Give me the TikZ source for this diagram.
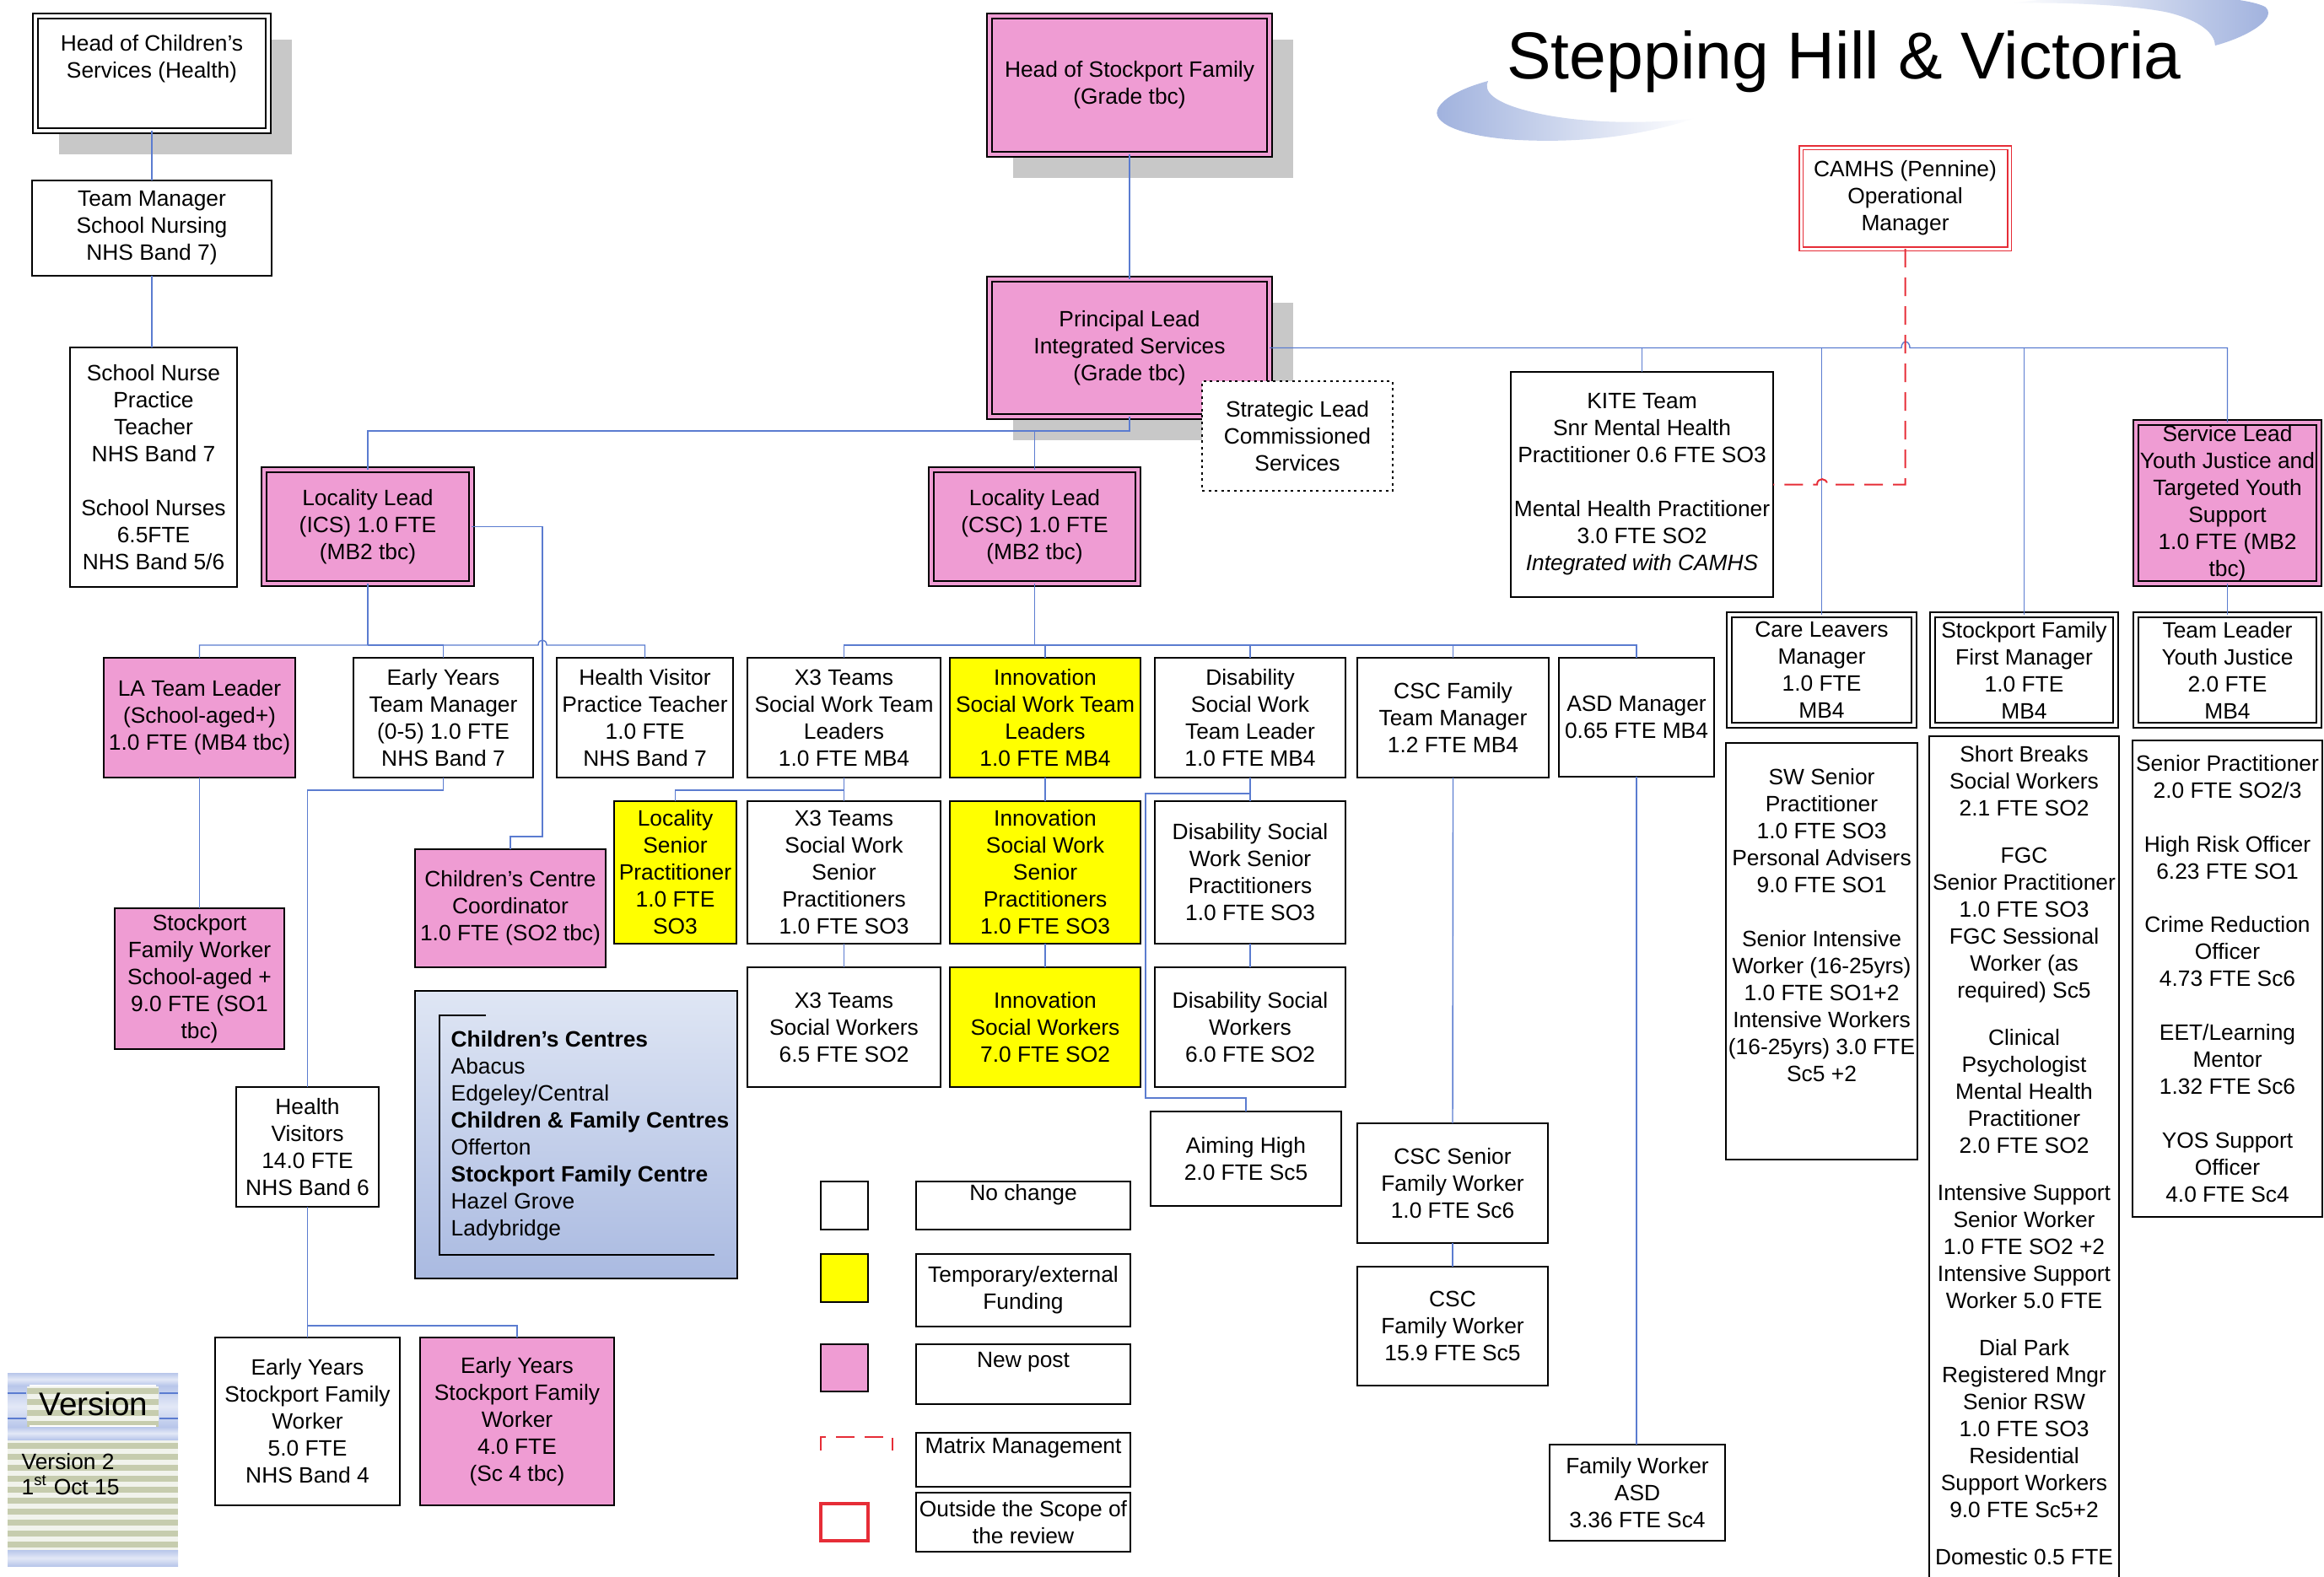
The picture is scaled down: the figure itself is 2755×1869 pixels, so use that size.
\documentclass[tikz,border=0pt]{standalone}
\usepackage{fontspec}
\setmainfont{Liberation Sans}
\usetikzlibrary{shadows}

\definecolor{pinkpost}{RGB}{239,156,211}
\definecolor{tempyel}{RGB}{255,255,0}
\definecolor{link}{RGB}{91,124,208}
\definecolor{matrixred}{RGB}{230,45,55}
\definecolor{shadowgray}{RGB}{200,200,200}
\definecolor{ccTop}{RGB}{223,230,244}
\definecolor{ccBot}{RGB}{170,186,225}
\definecolor{swoosh}{RGB}{158,176,221}
\definecolor{verblue}{RGB}{184,198,234}
\definecolor{vergreen}{RGB}{198,204,174}
\definecolor{verwhite}{RGB}{241,243,236}

\tikzset{
  box/.style={draw=black, line width=0.25mm, fill=white, inner sep=0pt, outer sep=0pt},
  txt/.style={font=\fontsize{7.5pt}{9.1pt}\selectfont, align=center, inner sep=0pt},
  newpost/.style={fill=pinkpost},
  temp/.style={fill=tempyel},
  dbl/.style={line width=0.2mm, double distance=0.35mm, double=white},
  dblpink/.style={dbl, fill=pinkpost, double=pinkpost},
  redbox/.style={draw=matrixred, line width=0.15mm, double distance=0.3mm, double=white},
  dotbox/.style={dash pattern=on 0.3mm off 0.45mm, line width=0.22mm},
  ccbox/.style={top color=ccTop, bottom color=ccBot},
  redsq/.style={draw=matrixred, line width=0.4mm, fill=none},
  shadowed/.style={drop shadow={shadow xshift=2.8mm, shadow yshift=-2.8mm, fill=shadowgray, opacity=1}},
  conn/.style={draw=link, line width=0.14mm},
  matrixline/.style={draw=matrixred, line width=0.2mm, dash pattern=on 2.2mm off 1.2mm},
}

% box from corner (x1,y1) to (x2,y2), drawn #1 units inside those corners
\newcommand\bxi[8]{%
  \pgfmathsetmacro\bxw{(#6-#4-2*#1)/10}%
  \pgfmathsetmacro\bxh{(#7-#5-2*#1)/10}%
  \pgfmathsetmacro\bxx{(#4+#6)/2}%
  \pgfmathsetmacro\bxy{(#5+#7)/2}%
  \node[box, minimum width=\bxw mm, minimum height=\bxh mm, #2] (#3) at (\bxx,\bxy) {};%
  \def\bxtext{#8}%
  \ifx\bxtext\empty\else\node[txt] (#3-t) at (#3.center) {#8};\fi
}
\newcommand\bx[7][]{\bxi{0}{#1}{#2}{#3}{#4}{#5}{#6}{#7}}
\newcommand\dbx[7][]{\bxi{4}{dbl,#1}{#2}{#3}{#4}{#5}{#6}{#7}}

\begin{document}
\begin{tikzpicture}[x=0.1mm, y=-0.1mm]
\useasboundingbox (0,0) rectangle (2755,1869);
\begin{scope}
\clip (0,0) rectangle (2755,1869);

% title swoosh
\shade[left color=swoosh, right color=white]
  (2010,140) .. controls (1950,160) and (1880,170) .. (1800,166)
  .. controls (1730,162) and (1695,145) .. (1705,128)
  .. controls (1712,115) and (1735,104) .. (1764,96)
  .. controls (1758,108) and (1770,122) .. (1817,133)
  .. controls (1870,146) and (1950,148) .. (2010,140) -- cycle;
\shade[left color=white, right color=swoosh]
  (2383,4) .. controls (2480,-10) and (2650,-10) .. (2685,8)
  .. controls (2700,20) and (2670,42) .. (2626,54)
  .. controls (2625,40) and (2610,25) .. (2571,15)
  .. controls (2530,6) and (2440,2) .. (2383,4) -- cycle;
\node[font=\fontsize{22.4pt}{26pt}\selectfont, anchor=base, inner sep=0pt] (title) at (2186,94) {Stepping Hill \& Victoria};

% health column
\dbx[shadowed]{headcs}{38}{15}{322}{159}{}
\node[txt] (headcs-t) at (180,70) {Head of Children’s\\Services (Health)};
\bx{tmsn}{38}{214}{322}{327}{Team Manager\\School Nursing\\NHS Band 7)}
\bx{snpt}{83}{412}{281}{696}{School Nurse\\Practice\\Teacher\\NHS Band 7\\[9.1pt]School Nurses\\6.5FTE\\NHS Band 5/6}

% top management
\dbx[dblpink,shadowed]{headsf}{1169}{15}{1509}{187}{Head of Stockport Family\\(Grade tbc)}
\dbx[dblpink,shadowed]{pl}{1169}{327}{1509}{498}{Principal Lead\\Integrated Services\\(Grade tbc)}
\bx[dotbox]{strat}{1425}{452}{1651}{582}{Strategic Lead\\Commissioned\\Services}
\dbx[redbox]{camhs}{2131}{171}{2386}{299}{CAMHS (Pennine)\\Operational\\Manager}
\bx{kite}{1791}{441}{2102}{708}{KITE Team\\Snr Mental Health\\Practitioner 0.6 FTE SO3\\[9.1pt]Mental Health Practitioner\\3.0 FTE SO2\\\textit{Integrated with CAMHS}}
\dbx[dblpink]{slyj}{2528}{497}{2753}{696}{Service Lead\\Youth Justice and\\Targeted Youth\\Support\\1.0 FTE (MB2\\tbc)}
\dbx[dblpink]{icsll}{309}{553}{563}{696}{Locality Lead\\(ICS) 1.0 FTE\\(MB2 tbc)}
\dbx[dblpink]{cscll}{1100}{553}{1353}{696}{Locality Lead\\(CSC) 1.0 FTE\\(MB2 tbc)}

% ICS locality
\bx[newpost]{latl}{123}{780}{350}{922}{LA Team Leader\\(School-aged+)\\1.0 FTE (MB4 tbc)}
\bx{eytm}{419}{780}{632}{922}{Early Years\\Team Manager\\(0-5) 1.0 FTE\\NHS Band 7}
\bx{hvpt}{660}{780}{869}{922}{Health Visitor\\Practice Teacher\\1.0 FTE\\NHS Band 7}
\bx[newpost]{sfw}{136}{1077}{337}{1244}{Stockport\\Family Worker\\School-aged +\\9.0 FTE (SO1\\tbc)}
\bx[newpost]{ccc}{492}{1007}{718}{1147}{Children’s Centre\\Coordinator\\1.0 FTE (SO2 tbc)}
\bx[temp]{lsp}{728}{950}{873}{1119}{Locality\\Senior\\Practitioner\\1.0 FTE\\SO3}
\bx[ccbox]{cctr}{492}{1175}{874}{1516}{}
\draw[line width=0.15mm] (576,1204) -- (521,1204) -- (521,1488) -- (847,1488);
\node[txt, align=left, anchor=north west] (cctr-t) at (534,1222)
  {\textbf{Children’s Centres}\\Abacus\\Edgeley/Central\\\textbf{Children \& Family Centres}\\Offerton\\\textbf{Stockport Family Centre}\\Hazel Grove\\Ladybridge};
\bx{hv}{280}{1289}{449}{1431}{Health\\Visitors\\14.0 FTE\\NHS Band 6}
\bx{eysfw1}{255}{1586}{474}{1785}{Early Years\\Stockport Family\\Worker\\5.0 FTE\\NHS Band 4}
\bx[newpost]{eysfw2}{498}{1586}{728}{1785}{Early Years\\Stockport Family\\Worker\\4.0 FTE\\(Sc 4 tbc)}

% CSC locality
\bx{x3tl}{886}{780}{1115}{922}{X3 Teams\\Social Work Team\\Leaders\\1.0 FTE MB4}
\bx[temp]{innotl}{1126}{780}{1352}{922}{Innovation\\Social Work Team\\Leaders\\1.0 FTE MB4}
\bx{distl}{1369}{780}{1595}{922}{Disability\\Social Work\\Team Leader\\1.0 FTE MB4}
\bx{cscftm}{1609}{780}{1836}{922}{CSC Family\\Team Manager\\1.2 FTE MB4}
\bx{asd}{1848}{780}{2032}{921}{ASD Manager\\0.65 FTE MB4}
\bx{x3sp}{886}{950}{1115}{1119}{X3 Teams\\Social Work\\Senior\\Practitioners\\1.0 FTE SO3}
\bx[temp]{innosp}{1126}{950}{1352}{1119}{Innovation\\Social Work\\Senior\\Practitioners\\1.0 FTE SO3}
\bx{dissp}{1369}{950}{1595}{1119}{Disability Social\\Work Senior\\Practitioners\\1.0 FTE SO3}
\bx{x3sw}{886}{1147}{1115}{1289}{X3 Teams\\Social Workers\\6.5 FTE SO2}
\bx[temp]{innosw}{1126}{1147}{1352}{1289}{Innovation\\Social Workers\\7.0 FTE SO2}
\bx{dissw}{1369}{1147}{1595}{1289}{Disability Social\\Workers\\6.0 FTE SO2}
\bx{aim}{1364}{1318}{1590}{1430}{Aiming High\\2.0 FTE Sc5}
\bx{cscsfw}{1609}{1332}{1835}{1474}{CSC Senior\\Family Worker\\1.0 FTE Sc6}
\bx{cscfw}{1609}{1502}{1835}{1643}{CSC\\Family Worker\\15.9 FTE Sc5}
\bx{fwasd}{1837}{1713}{2045}{1827}{Family Worker\\ASD\\3.36 FTE Sc4}

% right-hand services
\dbx{cl}{2046}{725}{2273}{864}{Care Leavers\\Manager\\1.0 FTE\\MB4}
\dbx{sff}{2287}{725}{2512}{864}{Stockport Family\\First Manager\\1.0 FTE\\MB4}
\dbx{tlyj}{2528}{725}{2753}{864}{Team Leader\\Youth Justice\\2.0 FTE\\MB4}
\bx{swsp}{2046}{881}{2273}{1375}{}
\node[txt, anchor=north] (swsp-t) at (2159.5,911)
  {SW Senior\\Practitioner\\1.0 FTE SO3\\Personal Advisers\\9.0 FTE SO1\\[9.1pt]Senior Intensive\\Worker (16-25yrs)\\1.0 FTE SO1+2\\Intensive Workers\\(16-25yrs) 3.0 FTE\\Sc5 +2};
\bx{sbsw}{2287}{873}{2512}{1885}{}
\node[txt, anchor=north] (sbsw-t) at (2399.5,884)
  {Short Breaks\\Social Workers\\2.1 FTE SO2\\[2.4mm]FGC\\Senior Practitioner\\1.0 FTE SO3\\FGC Sessional\\Worker (as\\required) Sc5\\[2.4mm]Clinical\\Psychologist\\Mental Health\\Practitioner\\2.0 FTE SO2\\[2.4mm]Intensive Support\\Senior Worker\\1.0 FTE SO2 +2\\Intensive Support\\Worker 5.0 FTE\\[2.4mm]Dial Park\\Registered Mngr\\Senior RSW\\1.0 FTE SO3\\Residential\\Support Workers\\9.0 FTE Sc5+2\\[2.4mm]Domestic 0.5 FTE};
\bx{yjsp}{2528}{878}{2753}{1443}{Senior Practitioner\\2.0 FTE SO2/3\\[9.1pt]High Risk Officer\\6.23 FTE SO1\\[9.1pt]Crime Reduction\\Officer\\4.73 FTE Sc6\\[9.1pt]EET/Learning\\Mentor\\1.32 FTE Sc6\\[9.1pt]YOS Support\\Officer\\4.0 FTE Sc4}

% key
\bx{lg1}{973}{1401}{1029}{1458}{}
\bx[temp]{lg2}{973}{1487}{1029}{1544}{}
\bx[newpost]{lg3}{973}{1594}{1029}{1650}{}
\draw[matrixline] (973,1720) -- (973,1704) -- (1058,1704) -- (1058,1720);
\bx[redsq]{lg5}{973}{1783}{1029}{1827}{}
\bx{lt1}{1086}{1401}{1340}{1458}{}
\node[txt, anchor=north] (lt1-t) at (1213,1404) {No change};
\bx{lt2}{1086}{1487}{1340}{1573}{Temporary/external\\Funding}
\bx{lt3}{1086}{1594}{1340}{1665}{}
\node[txt, anchor=north] (lt3-t) at (1213,1603) {New post};
\bx{lt4}{1086}{1699}{1340}{1763}{}
\node[txt, anchor=north] (lt4-t) at (1213,1704) {Matrix Management};
\bx{lt5}{1086}{1770}{1340}{1840}{Outside the Scope of\\the review}

% version panel
\fill[verwhite] (9,1628) rectangle (211,1857);
\foreach \y in {1646,1659,...,1836} \fill[vergreen] (9,\y) rectangle (211,{\y+7});
\foreach \ya/\yb in {1628/1643,1692/1707,1838/1857}
  \shade[top color=verblue, bottom color=verblue, middle color=verblue!40] (9,\ya) rectangle (211,\yb);
\shade[top color=verblue, bottom color=verblue, middle color=verblue!40] (9,1643) rectangle (32,1692);
\shade[top color=verblue, bottom color=verblue, middle color=verblue!40] (188,1643) rectangle (211,1692);
\draw[white, line width=0.2mm] (35,1643) -- (185,1643) (35,1691) -- (185,1691);
\draw[link, line width=0.2mm] (9,1652) -- (31,1652) (9,1682) -- (31,1682) (189,1652) -- (211,1652) (189,1682) -- (211,1682);
\node[font=\fontsize{11pt}{13pt}\selectfont, anchor=base, inner sep=0pt] (vertitle) at (111,1678) {Version};
\node[font=\fontsize{7.5pt}{9.1pt}\selectfont, anchor=base west, inner sep=0pt] (vernum) at (25,1742) {Version 2};
\node[font=\fontsize{7.5pt}{9.1pt}\selectfont, anchor=base west, inner sep=0pt] (verdate) at (25,1772) {1\textsuperscript{st} Oct 15};

% reporting lines
\draw[conn] (headcs.south) -- (tmsn.north);
\draw[conn] (tmsn.south) -- (tmsn.south |- snpt.north);
\draw[conn] (headsf.south) -- (pl.north);
\coordinate (plbus) at (1339,511);
\draw[conn] (pl.south) -- (plbus) -| (icsll.north);
\draw[conn] (plbus) -| (cscll.north);
\draw[conn] (pl.east) -- (2254,412.5) .. controls (2254,403) and (2264,403) .. (2264,412.5) -| (slyj.north);
\draw[conn] (kite.north |- pl.east) -- (kite.north);
\draw[conn] (cl.north |- pl.east) -- (cl.north);
\draw[conn] (sff.north |- pl.east) -- (sff.north);
\draw[conn] (slyj.south) -- (tlyj.north);
\draw[matrixline] (camhs.south) -- (camhs.south |- kite.east) -- (2166,574.5)
  .. controls (2166,566) and (2154,566) .. (2154,574.5) -- (kite.east);

\coordinate (icsbus) at (436,765);
\draw[conn] (icsll.south) -- (icsbus);
\draw[conn] (latl.north) |- (638,765) .. controls (638,757) and (648,757) .. (648,765) -| (hvpt.north);
\draw[conn] (icsbus) -| (eytm.north);
\draw[conn] (icsll.east) -| (643,992) -| (ccc.north);
\draw[conn] (latl.south) -- (sfw.north);
\draw[conn] (eytm.south) -- ++(0,15) -| (hv.north);
\coordinate (eybus) at (364.5,1572);
\draw[conn] (hv.south) -- (eysfw1.north);
\draw[conn] (eybus) -| (eysfw2.north);

\coordinate (cscbus) at (1226.5,765);
\draw[conn] (cscll.south) -- (cscbus);
\draw[conn] (x3tl.north) |- (asd.north |- cscbus) -- (asd.north);
\foreach \n in {innotl,distl,cscftm} \draw[conn] (\n.north) -- (\n.north |- cscbus);
\draw[conn] (x3tl.south) -- (x3sp.north);
\draw[conn] (x3tl.south) ++(0,15) -| (lsp.north);
\draw[conn] (x3sp.south) -- (x3sw.north);
\draw[conn] (innotl.south) -- (innosp.north);
\draw[conn] (innosp.south) -- (innosw.north);
\draw[conn] (distl.south) -- (dissp.north);
\draw[conn] (dissp.south) -- (dissw.north);
\draw[conn] (distl.south) ++(0,19) -| (1358,1302) -| (aim.north);
\draw[conn] (cscftm.south) -- (cscsfw.north);
\draw[conn] (cscsfw.south) -- (cscfw.north);
\draw[conn] (asd.south) -- (asd.south |- fwasd.north);
\end{scope}
\end{tikzpicture}
\end{document}
